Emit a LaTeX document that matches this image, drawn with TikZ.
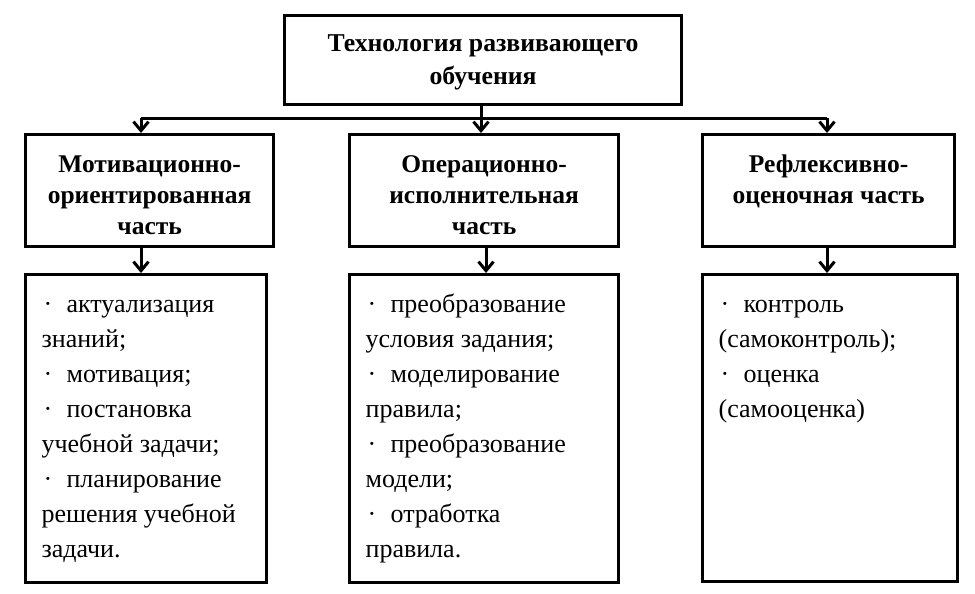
\documentclass[tikz,border=0pt]{standalone}
\usepackage{fontspec}
\setmainfont{Liberation Serif}
\usetikzlibrary{arrows.meta}
\newcommand\hdbox[3]{\parbox[c][#1][t]{#2}{\centering\fontsize{25.5}{31}\selectfont\bfseries\rule{0pt}{38pt}#3}}
\newcommand\lsbox[3]{\parbox[c][#1][t]{#2}{\raggedright\leftskip=16pt\fontsize{26}{35}\selectfont\rule{0pt}{38pt}#3}}
\newcommand\bul{\hspace*{2pt}\makebox[23pt][l]{·}}
\begin{document}
\begin{tikzpicture}[x=1pt,y=-1pt,
  frame/.style={draw, line width=3.2pt, inner sep=0pt, anchor=north west},
  conn/.style={line width=3pt},
  arr/.style={conn, -{Straight Barb[length=9pt,width=15pt]}}]
\useasboundingbox (0,0) rectangle (975,594);
% top
\node[frame] (top) at (283,14) {\parbox[c][89pt][c]{397pt}{\centering\fontsize{25.7}{33}\selectfont\bfseries\rule{0pt}{22pt}Технология развивающего\\обучения}};
% headers
\node[frame] (m1) at (24,133) {\hdbox{112pt}{248pt}{Мотивационно-\\ориентированная\\часть}};
\node[frame] (m2) at (348,133) {\hdbox{112pt}{269pt}{Операционно-\\исполнительная\\часть}};
\node[frame] (m3) at (701,133) {\hdbox{112pt}{252pt}{Рефлексивно-\\оценочная часть}};
% lists
\node[frame] (b1) at (24,273) {\lsbox{308pt}{241pt}{\bul актуализация\\знаний;\\\bul мотивация;\\\bul постановка\\учебной задачи;\\\bul планирование\\решения учебной\\задачи.}};
\node[frame] (b2) at (348,273) {\lsbox{308pt}{269pt}{\bul преобразование\\условия задания;\\\bul моделирование\\правила;\\\bul преобразование\\модели;\\\bul отработка\\правила.}};
\node[frame] (b3) at (701,273) {\lsbox{307pt}{255pt}{\bul контроль\\(самоконтроль);\\\bul оценка\\(самооценка)}};
% connectors
\coordinate (j) at (481,118);
\coordinate (xl) at (141,0);
\coordinate (xm) at (486,0);
\coordinate (xr) at (827,0);
\draw[arr] (top.south -| j) -- (m2.north -| j);
\draw[conn] (j -| xl) -- (j -| xr);
\draw[arr] (j -| xl) -- (m1.north -| xl);
\draw[arr] (j -| xr) -- (m3.north -| xr);
\draw[arr] (m1.south -| xl) -- (b1.north -| xl);
\draw[arr] (m2.south -| xm) -- (b2.north -| xm);
\draw[arr] (m3.south -| xr) -- (b3.north -| xr);
\end{tikzpicture}
\end{document}
